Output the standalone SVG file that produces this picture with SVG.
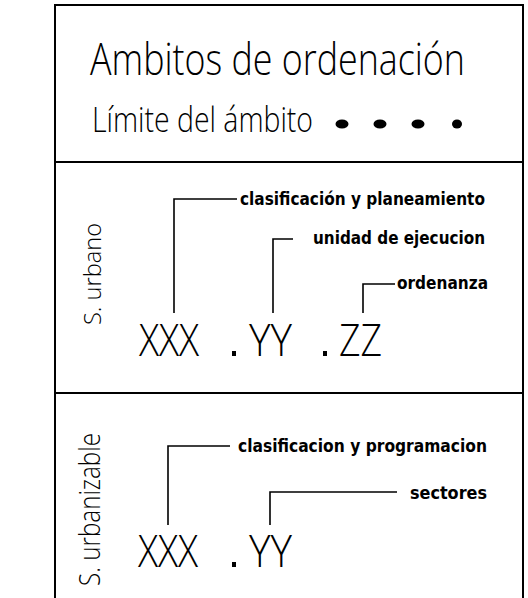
<svg xmlns="http://www.w3.org/2000/svg" width="528" height="598" viewBox="0 0 528 598">
<style>
.frame{fill:none;stroke:#000;stroke-width:2}
.lead{fill:none;stroke:#000;stroke-width:1.6}
.cad{font-family:"Open Sans","DejaVu Sans",sans-serif;font-weight:300;fill:#000}
.lbl{font-family:"DejaVu Sans","Liberation Sans",sans-serif;font-weight:bold;fill:#000;font-size:17px}
</style>
<rect width="528" height="598" fill="#fff"/>
<g id="frame">
<path class="frame" d="M55,598 V5 H523 V598"/>
<line class="frame" x1="55" y1="162" x2="523" y2="162"/>
<line class="frame" x1="55" y1="393" x2="523" y2="393"/>
</g>
<g id="legend">
<text class="cad" transform="translate(90,75) scale(1,1.16)" font-size="38" textLength="375" lengthAdjust="spacingAndGlyphs">Ambitos de ordenación</text>
<text class="cad" x="92" y="132" font-size="34" textLength="221" lengthAdjust="spacingAndGlyphs">Límite del ámbito</text>
<ellipse cx="342" cy="124" rx="6.5" ry="4.5"/>
<ellipse cx="380" cy="124" rx="6.5" ry="4.5"/>
<ellipse cx="418" cy="124" rx="6.5" ry="4.5"/>
<ellipse cx="457" cy="124" rx="5" ry="4.5"/>
</g>
<g id="urbano">
<text class="cad" transform="translate(101,325) rotate(-90)" font-size="24" textLength="102" lengthAdjust="spacingAndGlyphs">S. urbano</text>
<text class="cad" x="139" y="356" font-size="44" textLength="60" lengthAdjust="spacingAndGlyphs">XXX</text>
<rect x="232" y="351" width="4" height="5"/>
<text class="cad" x="249" y="356" font-size="44" textLength="43" lengthAdjust="spacingAndGlyphs">YY</text>
<rect x="323" y="351" width="4" height="5"/>
<text class="cad" x="339" y="356" font-size="44" textLength="43" lengthAdjust="spacingAndGlyphs">ZZ</text>
<text class="lbl" x="240" y="205" textLength="245" lengthAdjust="spacingAndGlyphs">clasificación y planeamiento</text>
<text class="lbl" x="313" y="244" textLength="172" lengthAdjust="spacingAndGlyphs">unidad de ejecucion</text>
<text class="lbl" x="397" y="289" textLength="91" lengthAdjust="spacingAndGlyphs">ordenanza</text>
</g>
<g id="urbanizable">
<text class="cad" transform="translate(100,586) rotate(-90)" font-size="30" textLength="153" lengthAdjust="spacingAndGlyphs">S. urbanizable</text>
<text class="cad" x="138" y="567" font-size="44" textLength="60" lengthAdjust="spacingAndGlyphs">XXX</text>
<rect x="232" y="562" width="4" height="5"/>
<text class="cad" x="249" y="567" font-size="44" textLength="43" lengthAdjust="spacingAndGlyphs">YY</text>
<text class="lbl" x="238" y="452" textLength="249" lengthAdjust="spacingAndGlyphs">clasificacion y programacion</text>
<text class="lbl" x="410" y="499" textLength="77" lengthAdjust="spacingAndGlyphs">sectores</text>
</g>
<g id="connectors">
<polyline class="lead" points="174,313 174,199 237,199"/>
<polyline class="lead" points="273,313 273,239 293,239"/>
<polyline class="lead" points="363,313 363,284 395,284"/>
<polyline class="lead" points="168,525 168,446 230,446"/>
<polyline class="lead" points="270,525 270,492 397,492"/>
</g>
</svg>
